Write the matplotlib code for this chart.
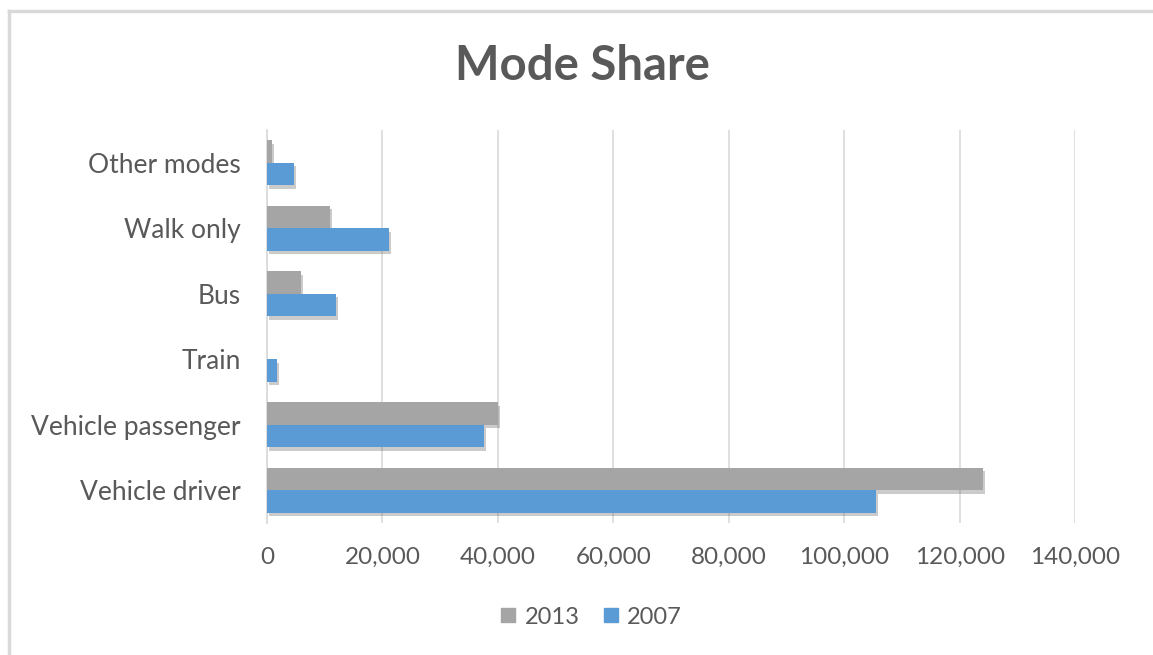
import numpy as np
import matplotlib
matplotlib.use("Agg")
from matplotlib import pyplot as plt
from matplotlib import patheffects as pe
from matplotlib.ticker import FuncFormatter
from matplotlib.lines import Line2D

# dati (dal basso verso l'alto)
categories = ["Vehicle driver", "Vehicle passenger", "Train", "Bus", "Walk only", "Other modes"]
val_2013 = [124000, 40000, 0, 5900, 10900, 900]
val_2007 = [105500, 37600, 1700, 12000, 21100, 4700]
xticks = [0, 20000, 40000, 60000, 80000, 100000, 120000, 140000]

GRAY = "#a5a5a5"
BLUE = "#5b9bd5"
TXT = "#595959"

plt.rcParams['font.family'] = ['Lato', 'DejaVu Sans']

fig = plt.figure(figsize=(11.53, 6.55), dpi=100)
ax = fig.add_axes([0.2316, 0.2015, 0.7008, 0.6])

y = np.arange(len(categories))
h = 0.34
shadow = [pe.SimplePatchShadow(offset=(1.5, -2.5), alpha=0.3, shadow_rgbFace="#555555"), pe.Normal()]
b13 = ax.barh(y + h / 2, val_2013, height=h, color=GRAY, label="2013", zorder=3)
b07 = ax.barh(y - h / 2, val_2007, height=h, color=BLUE, label="2007", zorder=3)
for b in list(b13) + list(b07):
    b.set_path_effects(shadow)

ax.set_xlim(0, 140000)
ax.set_ylim(-0.5, len(categories) - 0.5)
ax.set_xticks(xticks)
ax.xaxis.set_major_formatter(FuncFormatter(lambda v, p: f"{int(v):,}"))
ax.set_yticks(y)
ax.set_yticklabels(categories)
ax.tick_params(axis='both', length=0, labelcolor=TXT)
ax.tick_params(axis='x', pad=17, labelsize=17.5)
ax.tick_params(axis='y', pad=19, labelsize=19)
ax.grid(axis='x', color="#d9d9d9", linewidth=1.2, zorder=0)
for s in ["top", "right", "bottom"]:
    ax.spines[s].set_visible(False)
ax.spines["left"].set_color("#d9d9d9")
ax.spines["left"].set_linewidth(1.2)

fig.text(0.505, 0.90, "Mode Share", ha="center", va="center", fontsize=34,
         fontweight="bold", color=TXT)

handles = [Line2D([], [], marker="s", linestyle="none", markersize=10, color=GRAY),
           Line2D([], [], marker="s", linestyle="none", markersize=10, color=BLUE)]
fig.legend(handles, ["2013", "2007"], loc="center", bbox_to_anchor=(0.511, 0.058), ncol=2,
           frameon=False, fontsize=17, labelcolor=TXT, handlelength=1.0,
           handletextpad=0.2, columnspacing=0.8)

# cornice
fig.add_artist(Line2D([0.008, 1.0], [1 - 11 / 655, 1 - 11 / 655], color="#d9d9d9", lw=2.5))
fig.add_artist(Line2D([0.008, 0.008], [0, 1 - 11 / 655], color="#d9d9d9", lw=2.5))

fig.savefig("out.png", dpi=100)
